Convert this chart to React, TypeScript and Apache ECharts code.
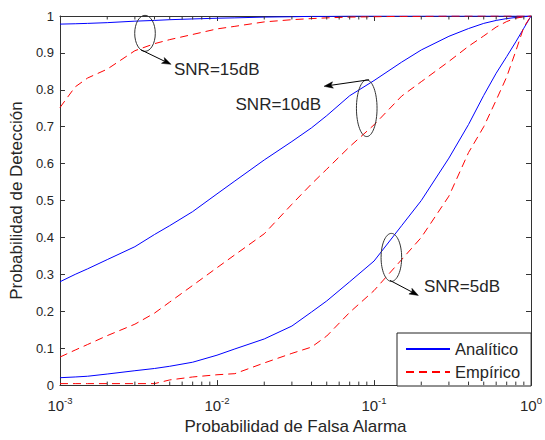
import React, { useEffect, useRef } from 'react';
import * as echarts from 'echarts';

// False-alarm probabilities shared by every curve (log scale)
const pfa = [
  0.001, 0.00125, 0.0015, 0.002, 0.003, 0.004, 0.005, 0.007, 0.01, 0.013,
  0.02, 0.03, 0.04, 0.05, 0.07, 0.1, 0.15, 0.2, 0.3, 0.4, 0.5, 0.6, 0.7,
  0.8, 0.9, 1,
];

// Detection probability, analytic model
const pdAnalitico15 = [
  0.978, 0.979, 0.98, 0.982, 0.986, 0.988, 0.99, 0.992, 0.994, 0.995,
  0.997, 0.998, 0.999, 0.999, 1, 1, 1, 1, 1, 1, 1, 1, 1, 1, 1, 1,
];
const pdAnalitico10 = [
  0.28, 0.3, 0.315, 0.34, 0.375, 0.408, 0.432, 0.47, 0.518, 0.553,
  0.61, 0.66, 0.697, 0.73, 0.784, 0.825, 0.875, 0.908, 0.945, 0.966,
  0.98, 0.988, 0.993, 0.996, 0.998, 1,
];
const pdAnalitico5 = [
  0.02, 0.022, 0.024, 0.03, 0.039, 0.045, 0.051, 0.062, 0.081, 0.098,
  0.125, 0.16, 0.198, 0.228, 0.28, 0.336, 0.432, 0.5, 0.615, 0.706,
  0.785, 0.845, 0.89, 0.93, 0.967, 1,
];

// Detection probability, empirical (simulated) results
const pdEmpirico15 = [
  0.752, 0.808, 0.832, 0.856, 0.906, 0.925, 0.936, 0.95, 0.965, 0.972,
  0.984, 0.99, 0.993, 0.995, 0.997, 0.998, 0.999, 0.999, 1, 1, 1, 1, 1,
  1, 1, 1,
];
const pdEmpirico10 = [
  0.076, 0.095, 0.11, 0.134, 0.165, 0.195, 0.225, 0.27, 0.318, 0.353,
  0.41, 0.49, 0.545, 0.585, 0.646, 0.705, 0.783, 0.822, 0.877, 0.918,
  0.946, 0.97, 0.985, 0.994, 0.998, 1,
];
const pdEmpirico5 = [
  0.004, 0.004, 0.004, 0.004, 0.004, 0.004, 0.014, 0.022, 0.028, 0.031,
  0.06, 0.086, 0.103, 0.133, 0.197, 0.256, 0.34, 0.4, 0.512, 0.63,
  0.7, 0.772, 0.835, 0.905, 0.97, 1,
];

// Minor ticks of the log axis (2..9 in every decade)
const minorTicks = [
  0.002, 0.003, 0.004, 0.005, 0.006, 0.007, 0.008, 0.009,
  0.02, 0.03, 0.04, 0.05, 0.06, 0.07, 0.08, 0.09,
  0.2, 0.3, 0.4, 0.5, 0.6, 0.7, 0.8, 0.9,
];

// SNR call-outs: ellipse centre in data space, then pixel offsets from it
const snrLabels = ['SNR=15dB', 'SNR=10dB', 'SNR=5dB'];
const snrCentre = [
  [0.00348, 0.953],
  [0.0899, 0.75],
  [0.129, 0.346],
];
const snrRadii = [
  [10.3, 18],
  [10.3, 28.3],
  [10.3, 24],
];
const snrArrow = [
  [-4, 16.5, 26, 31],
  [2.3, -28.5, -42.7, -22],
  [-1.4, 23, 27, 38],
];
const snrText = [
  [29, 36, 'left'],
  [-45.7, -4, 'right'],
  [32.6, 29, 'left'],
];

const FONT = '"Liberation Sans", Arial, Helvetica, sans-serif';
const INK = '#262626';
const AXIS = '#333333';
const BLUE = '#0000ff';
const RED = '#ff0000';

const pairs = (ys: number[]) => pfa.map((x, i) => [x, ys[i]]);

export default function App() {
  const ref = useRef<HTMLDivElement>(null);

  useEffect(() => {
    const chart = echarts.init(ref.current!, null, { renderer: 'svg' });

    const line = (name: string, ys: number[], color: string, dashed: boolean) => ({
      type: 'line',
      name,
      data: pairs(ys),
      symbol: 'none',
      showSymbol: false,
      silent: true,
      z: 3,
      lineStyle: { color, width: 1, type: dashed ? [8, 5] : 'solid' },
      itemStyle: { color },
    });

    const logAxisBase = {
      type: 'log',
      logBase: 10,
      min: 0.001,
      max: 1,
      splitLine: { show: false },
      axisLine: { show: true, onZero: false, lineStyle: { color: AXIS, width: 1 } },
      axisTick: { show: true, inside: true, length: 5, lineStyle: { color: AXIS } },
      minorTick: { show: false },
    };
    const valAxisBase = {
      type: 'value',
      min: 0,
      max: 1,
      interval: 0.1,
      splitLine: { show: false },
      axisLine: { show: true, onZero: false, lineStyle: { color: AXIS, width: 1 } },
      axisTick: { show: true, inside: true, length: 5, lineStyle: { color: AXIS } },
    };

    chart.setOption({
      animation: false,
      backgroundColor: '#ffffff',
      grid: { left: 57, top: 16, right: 8, bottom: 48, containLabel: false },
      xAxis: [
        {
          ...logAxisBase,
          position: 'bottom',
          name: 'Probabilidad de Falsa Alarma',
          nameLocation: 'middle',
          nameGap: 32,
          nameTextStyle: { color: INK, fontSize: 17, fontFamily: FONT },
          axisLabel: {
            color: INK,
            margin: 10,
            fontFamily: FONT,
            formatter: (v: number) => `{b|10}{e|${Math.round(Math.log10(v))}}`,
            rich: {
              b: { fontSize: 15, fontFamily: FONT, color: INK, verticalAlign: 'bottom', lineHeight: 18 },
              e: { fontSize: 9.5, fontFamily: FONT, color: INK, verticalAlign: 'top', lineHeight: 18 },
            },
          },
        },
        {
          ...logAxisBase,
          position: 'top',
          axisLabel: { show: false },
        },
      ],
      yAxis: [
        {
          ...valAxisBase,
          position: 'left',
          name: 'Probabilidad de Detección',
          nameLocation: 'middle',
          nameGap: 33,
          nameTextStyle: { color: INK, fontSize: 17, fontFamily: FONT },
          axisLabel: {
            color: INK,
            fontSize: 13,
            fontFamily: FONT,
            margin: 6,
            padding: [4, 0, 0, 0],
            formatter: (v: number) => (v === 0 ? '0' : v === 1 ? '1' : v.toFixed(1)),
          },
        },
        {
          ...valAxisBase,
          position: 'right',
          axisLabel: { show: false },
        },
      ],
      legend: {
        data: ['Analítico', 'Empírico'],
        orient: 'vertical',
        left: 397,
        top: 333,
        itemWidth: 44,
        itemHeight: 14,
        itemGap: 5,
        itemTextGap: 6,
        padding: [7, 11, 5, 8],
        backgroundColor: '#ffffff',
        borderColor: '#222222',
        borderWidth: 1,
        borderRadius: 0,
        selectedMode: false,
        itemStyle: { opacity: 0, borderWidth: 0 },
        textStyle: { color: INK, fontSize: 16.5, fontFamily: FONT, lineHeight: 18 },
      },
      series: [
        line('Analítico', pdAnalitico15, BLUE, false),
        line('Analítico', pdAnalitico10, BLUE, false),
        line('Analítico', pdAnalitico5, BLUE, false),
        line('Empírico', pdEmpirico15, RED, true),
        line('Empírico', pdEmpirico10, RED, true),
        line('Empírico', pdEmpirico5, RED, true),
        {
          type: 'custom',
          name: 'minorTicks',
          silent: true,
          z: 4,
          clip: false,
          data: minorTicks.map((v) => [v, 0]),
          renderItem: (params: any, api: any) => {
            const v = api.value(0);
            const b = api.coord([v, 0]);
            const t = api.coord([v, 1]);
            const style = { stroke: AXIS, lineWidth: 1 };
            return {
              type: 'group',
              children: [
                { type: 'line', shape: { x1: b[0], y1: b[1], x2: b[0], y2: b[1] - 3.5 }, style },
                { type: 'line', shape: { x1: t[0], y1: t[1], x2: t[0], y2: t[1] + 3.5 }, style },
              ],
            };
          },
        },
      ],
    });

    // SNR call-outs: ellipse around each curve pair, arrow and label
    const graphics: any[] = [];
    snrLabels.forEach((label, i) => {
      const [cx, cy] = chart.convertToPixel({ gridIndex: 0 }, snrCentre[i]) as number[];
      const [rx, ry] = snrRadii[i];
      graphics.push({
        type: 'ellipse',
        shape: { cx, cy, rx, ry },
        style: { fill: 'none', stroke: '#333333', lineWidth: 1 },
        z: 10,
      });
      const [sx, sy, ex, ey] = snrArrow[i];
      const x1 = cx + sx;
      const y1 = cy + sy;
      const x2 = cx + ex;
      const y2 = cy + ey;
      const len = Math.hypot(x2 - x1, y2 - y1);
      const dx = (x2 - x1) / len;
      const dy = (y2 - y1) / len;
      const L = 9;
      const W = 3.2;
      const bx = x2 - dx * L;
      const by = y2 - dy * L;
      graphics.push({
        type: 'line',
        shape: { x1, y1, x2: bx + dx * 2, y2: by + dy * 2 },
        style: { stroke: '#000000', lineWidth: 1 },
        z: 10,
      });
      graphics.push({
        type: 'polygon',
        shape: {
          points: [
            [x2, y2],
            [bx - dy * W, by + dx * W],
            [bx + dx * 2, by + dy * 2],
            [bx + dy * W, by - dx * W],
          ],
        },
        style: { fill: '#000000', stroke: '#000000', lineWidth: 0.5 },
        z: 10,
      });
      const [tx, ty, align] = snrText[i] as [number, number, string];
      graphics.push({
        type: 'text',
        x: cx + tx,
        y: cy + ty,
        style: {
          text: label,
          fill: INK,
          fontSize: 17,
          fontFamily: FONT,
          align,
          textAlign: align,
          verticalAlign: 'middle',
          textVerticalAlign: 'middle',
        },
        z: 10,
      });
    });
    chart.setOption({ graphic: { elements: graphics } });

    return () => chart.dispose();
  }, []);

  return (
    <div
      ref={ref}
      style={{ position: 'fixed', left: 0, top: 0, width: 545, height: 440, background: '#fff' }}
    />
  );
}
